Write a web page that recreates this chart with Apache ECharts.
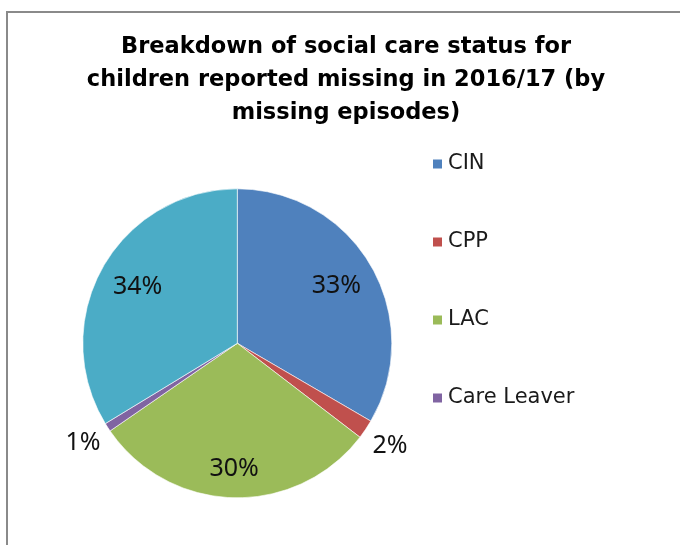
<!DOCTYPE html>
<html>
<head>
<meta charset="utf-8">
<script src="https://cdn.jsdelivr.net/npm/echarts@6/dist/echarts.min.js"></script>
<style>
  html, body { margin: 0; padding: 0; width: 680px; height: 545px; overflow: hidden; background: #fff; }
  #frame { position: absolute; left: 6px; top: 11px; width: 720px; height: 600px; border: 2px solid #8a8a8a; box-sizing: border-box; }
  #chart { position: absolute; left: 0; top: 0; width: 680px; height: 545px; }
</style>
</head>
<body>
<div id="frame"></div>
<div id="chart"></div>
<script>
// ---- data ----
const categories = ['CIN', 'CPP', 'LAC', 'Care Leaver', 'Other'];
const values = [33.4, 2.0, 30.0, 0.9, 33.7];
const legendItems = ['CIN', 'CPP', 'LAC', 'Care Leaver'];
const titleText = 'Breakdown of social care status for\nchildren reported missing in 2016/17 (by\nmissing episodes)';

// ---- style ----
const colors = ['#4F81BD', '#C0504D', '#9BBB59', '#8064A2', '#4BACC6'];
const cx = 237.3, cy = 343.3, R = 154.5;
const labelDist = [0.74, 1.19, 0.81, 1.19, 0.74];

const total = values.reduce((a, b) => a + b, 0);
const seriesData = categories.map((c, i) => ({
  name: c,
  value: values[i],
  itemStyle: { color: colors[i] },
  label: { position: labelDist[i] > 1 ? 'outside' : 'inside' }
}));

const chart = echarts.init(document.getElementById('chart'), null, { renderer: 'canvas' });
chart.setOption({
  animation: false,
  title: {
    text: titleText,
    left: 346,
    top: 31,
    textAlign: 'center',
    padding: 0,
    textStyle: {
      fontFamily: 'DejaVu Sans',
      fontWeight: 'bold',
      fontSize: 22.5,
      lineHeight: 33,
      color: '#000'
    }
  },
  legend: {
    data: legendItems,
    orient: 'vertical',
    left: 431,
    top: 153,
    padding: 0,
    icon: 'rect',
    itemWidth: 11,
    itemHeight: 11,
    itemGap: 56,
    selectedMode: false,
    textStyle: {
      fontFamily: 'DejaVu Sans',
      fontSize: 21,
      lineHeight: 22,
      color: '#1a1a1a'
    }
  },
  series: [{
    type: 'pie',
    center: [cx, cy],
    radius: [0, R],
    startAngle: 90,
    clockwise: true,
    avoidLabelOverlap: false,
    itemStyle: { borderColor: '#ffffff', borderWidth: 0.6 },
    emphasis: { disabled: true },
    label: {
      show: true,
      fontFamily: 'Noto Sans',
      fontSize: 25,
      color: '#111',
      formatter: p => Math.round(p.percent) + '%'
    },
    labelLine: { show: false },
    labelLayout: function (p) {
      const i = p.dataIndex;
      let cum = 0;
      for (let j = 0; j < i; j++) cum += values[j];
      const a = (cum + values[i] / 2) / total * Math.PI * 2;
      const r = labelDist[i] * R;
      return {
        x: cx + r * Math.sin(a),
        y: cy - r * Math.cos(a),
        align: 'center',
        verticalAlign: 'middle'
      };
    },
    data: seriesData
  }]
});
</script>
</body>
</html>
